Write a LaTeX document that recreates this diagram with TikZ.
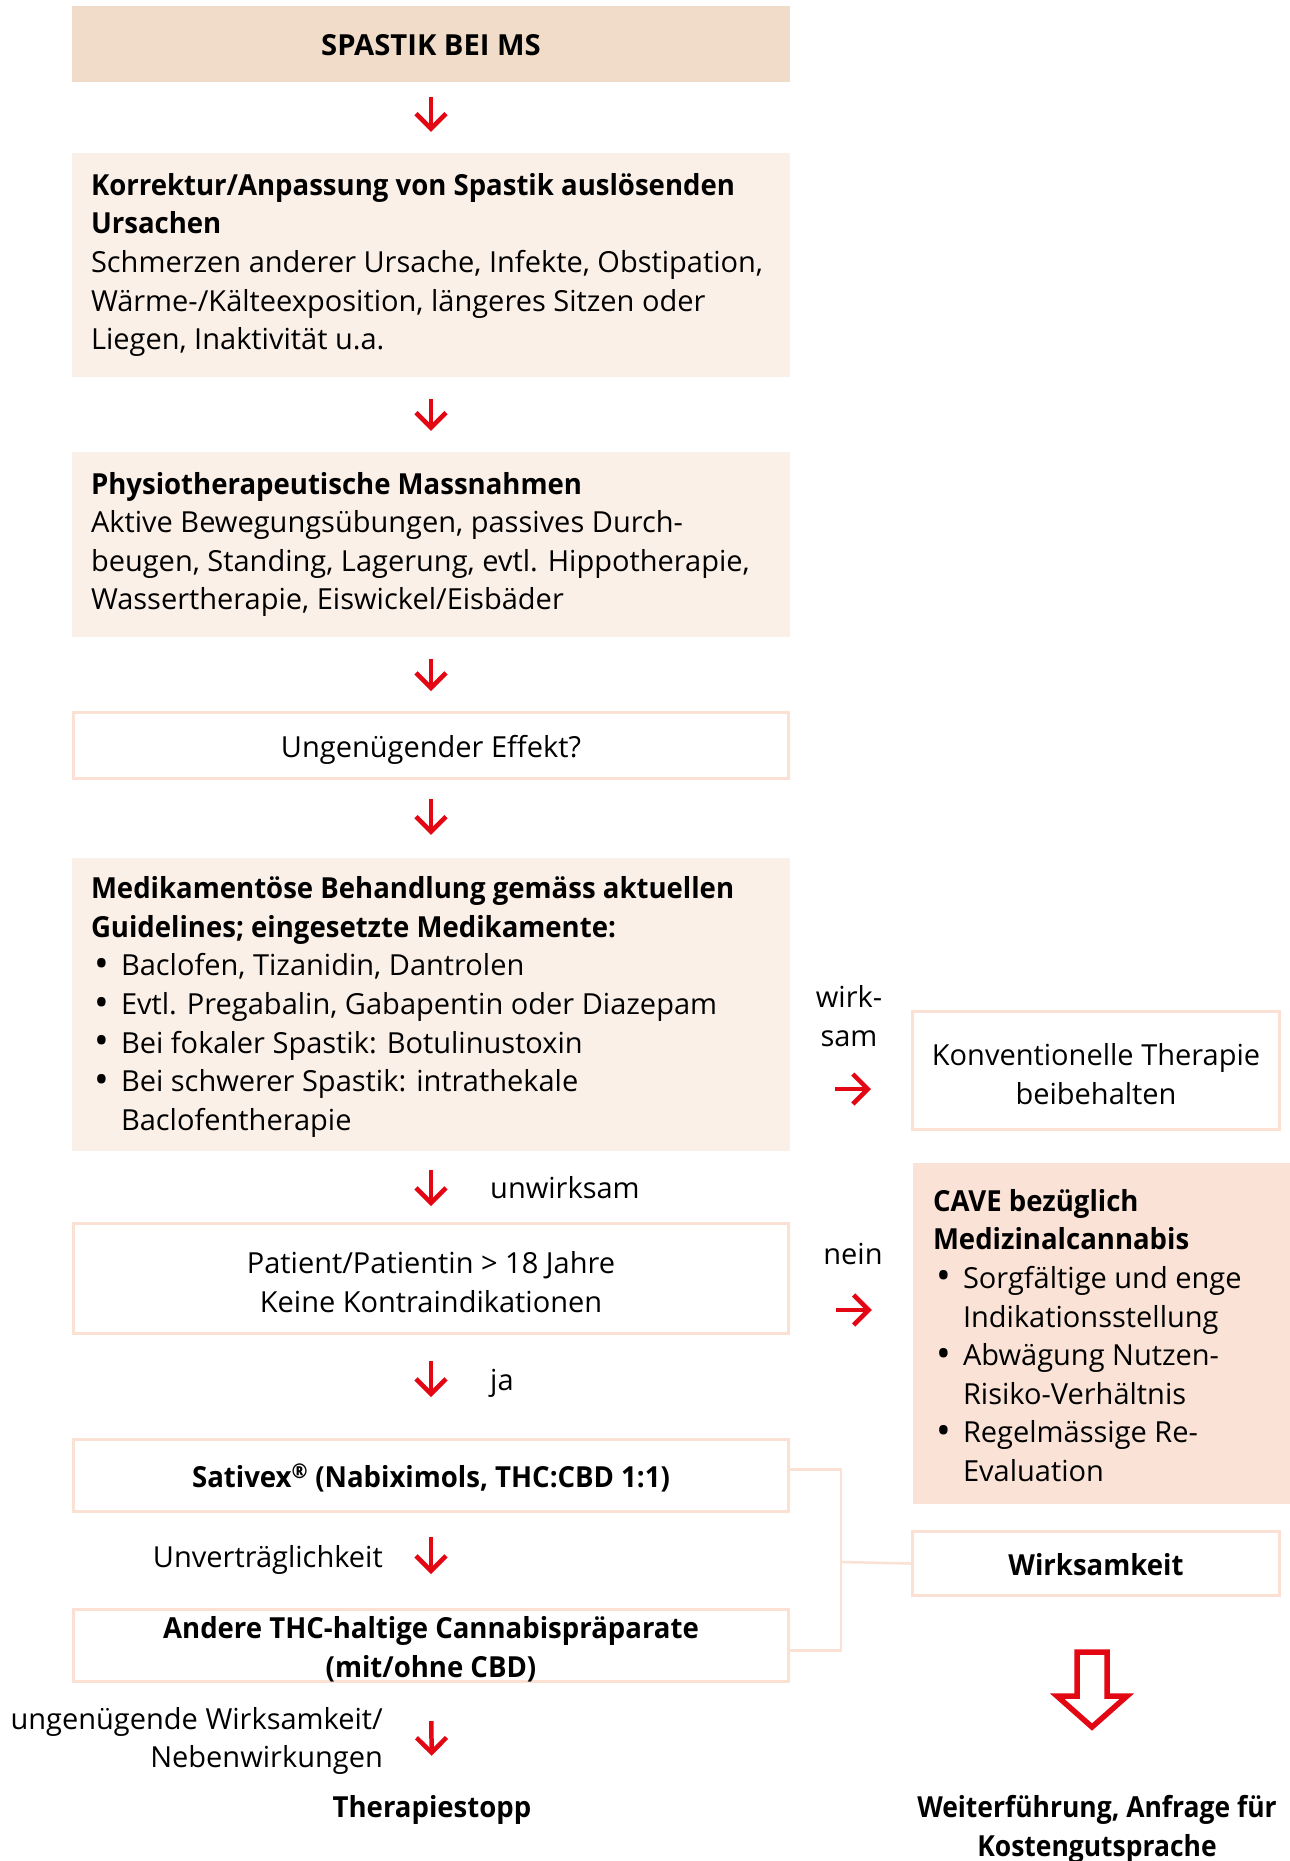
\documentclass[tikz,border=0pt]{standalone}
\usepackage{graphicx}
\usepackage{fontspec}
\setmainfont{Open Sans}[BoldFeatures={FakeStretch=0.95}]
\usetikzlibrary{arrows.meta}
\setlength{\parindent}{0pt}
\definecolor{redA}{HTML}{E30613}
\definecolor{tanfill}{HTML}{F0DCC8}
\definecolor{lightfill}{HTML}{FBF0E8}
\definecolor{peachfill}{HTML}{FAE3D6}
\definecolor{edgecol}{HTML}{FAE1D3}
\newcommand{\blt}{\makebox[30pt][l]{\hspace{3pt}\raisebox{-1.5pt}{\scalebox{1.35}{\textbullet}}}}
\newcommand{\ind}{\hspace*{30pt}}
\begin{document}
\begin{tikzpicture}[x=1pt,y=-1pt,
  font=\fontsize{29pt}{38.6pt}\selectfont,
  fillbox/.style={inner sep=0pt, minimum width=718pt},
  outbox/.style={draw=edgecol, line width=3pt, inner sep=0pt, minimum width=715pt},
  txt/.style={inner sep=0pt, align=left, anchor=west},
  ctr/.style={inner sep=0pt, align=center},
  lbl/.style={inner sep=0pt},
  conn/.style={draw=edgecol, line width=2.5pt},
  rarr/.style={draw=redA, line width=4.5pt, -{Straight Barb[length=15pt,width=30pt]}},
]
\useasboundingbox (0,0) rectangle (1290,1861);

% left column boxes
\node[fillbox, fill=tanfill, minimum height=76pt] (title) at (431,44) {};
\node[ctr] (titleT) at ([yshift=-1pt]title.center) {\scalebox{1.06}[1]{\bfseries SPASTIK BEI MS}};

\node[fillbox, fill=lightfill, minimum height=224pt] (korr) at (431,265) {};
\node[txt] (korrT) at ([xshift=19pt]korr.west) {{\bfseries Korrektur/Anpassung von Spastik auslösenden}\\
{\bfseries Ursachen}\\
Schmerzen anderer Ursache, Infekte, Obstipation,\\
Wärme-/Kälteexposition, längeres Sitzen oder\\
Liegen, Inaktivität u.a.};

\node[fillbox, fill=lightfill, minimum height=185pt] (phys) at (431,544.5) {};
\node[txt] (physT) at ([xshift=19pt]phys.west) {{\bfseries Physiotherapeutische Massnahmen}\\
Aktive Bewegungsübungen, passives Durch-\\
beugen, Standing, Lagerung, evtl. Hippotherapie,\\
Wassertherapie, Eiswickel/Eisbäder};

\node[outbox, minimum height=66pt] (ung) at (431,745.5) {};
\node[ctr] (ungT) at ([yshift=-4pt]ung.center) {Ungenügender Effekt?};

\node[fillbox, fill=lightfill, minimum height=293pt] (med) at (431,1004.5) {};
\node[txt] (medT) at ([xshift=19pt,yshift=-2.5pt]med.west) {{\bfseries Medikamentöse Behandlung gemäss aktuellen}\\
{\bfseries Guidelines; eingesetzte Medikamente:}\\
\blt Baclofen, Tizanidin, Dantrolen\\
\blt Evtl. Pregabalin, Gabapentin oder Diazepam\\
\blt Bei fokaler Spastik: Botulinustoxin\\
\blt Bei schwerer Spastik: intrathekale\\
\ind Baclofentherapie};

\node[outbox, minimum height=110pt] (pat) at (431,1278.5) {};
\node[ctr] (patT) at ([yshift=-3.5pt]pat.center) {Patient/Patientin > 18 Jahre\\Keine Kontraindikationen};

\node[outbox, minimum height=72pt] (sat) at (431,1475.5) {};
\node[ctr] (satT) at ([yshift=-2.5pt]sat.center) {\bfseries Sativex\textsuperscript{®} (Nabiximols, THC:CBD 1:1)};

\node[outbox, minimum height=72pt] (and) at (431,1645.5) {};
\node[ctr] (andT) at ([yshift=-3.5pt]and.center) {{\bfseries Andere THC-haltige Cannabispräparate}\\{\bfseries (mit/ohne CBD)}};

\node[lbl, anchor=base] (stop) at (432,1817) {\bfseries Therapiestopp};

% right column
\node[outbox, minimum width=367pt, minimum height=118pt] (konv) at (1096,1070.5) {};
\node[ctr] (konvT) at ([yshift=-3.5pt]konv.center) {Konventionelle Therapie\\beibehalten};

\node[inner sep=0pt, fill=peachfill, minimum width=377pt, minimum height=341pt] (cave) at (1101.5,1333.5) {};
\node[txt] (caveT) at ([xshift=20pt,yshift=-2pt]cave.west) {{\bfseries CAVE bezüglich}\\
{\bfseries Medizinalcannabis}\\
\blt Sorgfältige und enge\\
\ind Indikationsstellung\\
\blt Abwägung Nutzen-\\
\ind Risiko-Verhältnis\\
\blt Regelmässige Re-\\
\ind Evaluation};

\node[outbox, minimum width=367pt, minimum height=64pt] (wirk) at (1096,1563.5) {};
\node[ctr] (wirkT) at ([yshift=-1.5pt]wirk.center) {\bfseries Wirksamkeit};

\node[lbl, align=center, anchor=north] (weiter) at (1097,1795) {\scalebox{0.96}[1]{\bfseries Weiterführung, Anfrage für}\\\scalebox{0.96}[1]{\bfseries Kostengutsprache}};

% labels
\node[lbl, align=center] (wirksam) at (849,1016) {wirk-\\sam};
\node[lbl, anchor=base] (nein) at (853,1264) {nein};
\node[lbl, anchor=base west] (unw) at (490,1198) {unwirksam};
\node[lbl, anchor=base west] (ja) at (490,1390) {ja};
\node[lbl, anchor=base east] (unv) at (383,1567) {Unverträglichkeit};
\node[lbl, align=right, anchor=east] (ungw) at (383,1741) {ungenügende Wirksamkeit/\\Nebenwirkungen};

% down arrows
\draw[rarr, shorten <=15pt, shorten >=21pt] (title.south) -- (korr.north);
\draw[rarr, shorten <=22pt, shorten >=21pt] (korr.south) -- (phys.north);
\draw[rarr, shorten <=22pt, shorten >=20pt] (phys.south) -- (ung.north);
\draw[rarr, shorten <=19pt, shorten >=23pt] (ung.south) -- (med.north);
\draw[rarr, shorten <=19pt, shorten >=16pt] (med.south) -- (pat.north);
\draw[rarr, shorten <=26pt, shorten >=41pt] (pat.south) -- (sat.north);
\draw[rarr, shorten <=24pt, shorten >=34pt] (sat.south) -- (and.north);
\draw[rarr, shorten <=38pt, shorten >=39pt] (and.south) -- (stop.north);

% right arrows
\coordinate (a1) at (0,1089);
\coordinate (a2) at (0,1310);
\draw[rarr, shorten <=45pt, shorten >=40pt] (med.east |- a1) -- (konv.west |- a1);
\draw[rarr, shorten <=46pt, shorten >=41pt] (pat.east |- a2) -- (cave.west |- a2);

% connectors to Wirksamkeit
\coordinate (j) at (841,1562);
\draw[conn] ([yshift=6pt]sat.east) -| (j) |- ([yshift=-5pt]and.east);
\draw[conn] (j) -- (wirk.west);

% hollow arrow
\draw[redA, line width=5.5pt, line join=miter] (1077,1652) -- (1107,1652) -- (1107,1696) -- (1127,1696) -- (1092,1727) -- (1057,1696) -- (1077,1696) -- cycle;
\end{tikzpicture}
\end{document}
